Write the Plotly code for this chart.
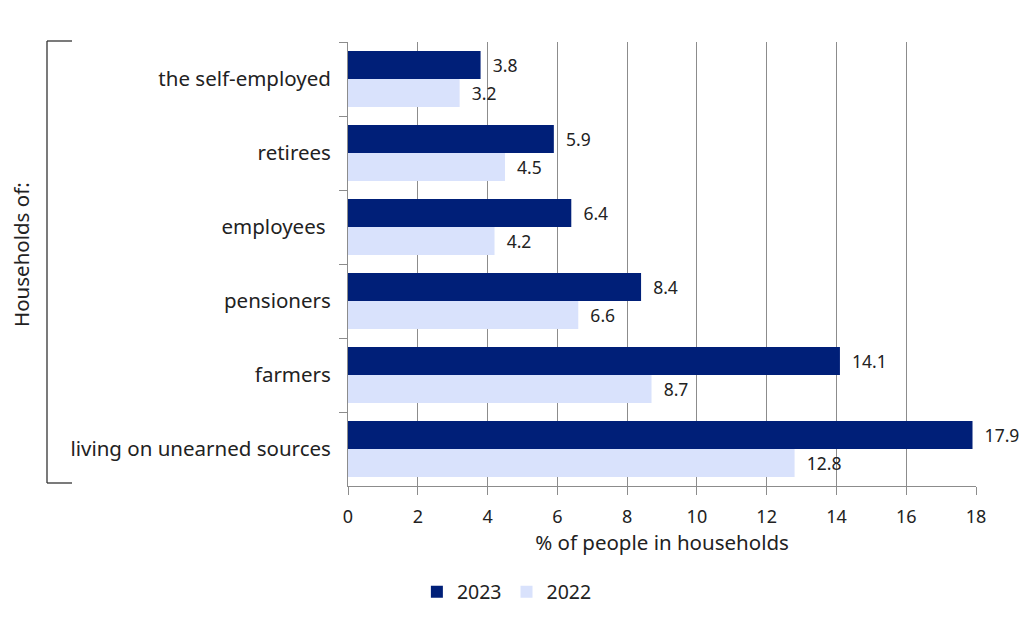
import plotly.graph_objects as go

categories = ["the self-employed", "retirees", "employees ", "pensioners", "farmers",
              "living on unearned sources"]
values_2023 = [3.8, 5.9, 6.4, 8.4, 14.1, 17.9]
values_2022 = [3.2, 4.5, 4.2, 6.6, 8.7, 12.8]
x_ticks = [0, 2, 4, 6, 8, 10, 12, 14, 16, 18]

DARK = "#001F78"
LIGHT = "#D9E2FC"
TEXT = "#222222"
GRID = "#8C8C8C"
FONT = "Noto Sans"
PAD = "\u00a0\u00a0"

fig = go.Figure()
for name, vals, color in [("2023", values_2023, DARK), ("2022", values_2022, LIGHT)]:
    fig.add_trace(go.Bar(
        y=categories, x=vals, name=name, orientation="h",
        marker=dict(color=color, line=dict(width=0)),
        text=[f"{PAD}{v:.1f}" for v in vals], textposition="outside",
        textfont=dict(size=17.5, color=TEXT, family=FONT), cliponaxis=False,
    ))

L, R, T, B = 348, 48, 42, 140
W, H = 1024, 626
pw = W - L - R
ph = H - T - B


def px_x(p):
    return (p - L) / pw


def px_y(p):
    return 1 - (p - T) / ph


# Bracket grouping the household categories
bx0, bx1 = px_x(47), px_x(72)
by0, by1 = px_y(41), px_y(483)
bracket = dict(color="#333333", width=1.3)
shapes = [
    dict(type="line", xref="paper", yref="paper", x0=bx0, x1=bx0, y0=by0, y1=by1, line=bracket),
    dict(type="line", xref="paper", yref="paper", x0=bx0, x1=bx1, y0=by0, y1=by0, line=bracket),
    dict(type="line", xref="paper", yref="paper", x0=bx0, x1=bx1, y0=by1, y1=by1, line=bracket),
]

fig.update_layout(
    width=W, height=H,
    margin=dict(l=L, r=R, t=T, b=B),
    paper_bgcolor="white", plot_bgcolor="white",
    barmode="group", bargap=0.24, bargroupgap=0,
    font=dict(family=FONT, size=18, color=TEXT),
    shapes=shapes,
    showlegend=True,
    legend=dict(orientation="h", x=0.495, xref="container", xanchor="center",
                y=1 - 592 / H, yref="container", yanchor="middle",
                font=dict(size=19.5, family=FONT, color=TEXT),
                itemwidth=30, traceorder="normal"),
    annotations=[dict(text="Households of:", xref="paper", yref="paper",
                      x=px_x(21), y=px_y(254), xanchor="center", yanchor="middle",
                      textangle=-90, showarrow=False,
                      font=dict(size=20.5, family=FONT, color=TEXT))],
)

fig.update_xaxes(
    range=[0, 18], tickvals=x_ticks, showgrid=True, gridcolor=GRID, gridwidth=1,
    showline=True, linecolor=GRID, linewidth=1,
    ticks="outside", ticklen=8, tickcolor=GRID,
    tickfont=dict(size=18, family=FONT, color=TEXT),
    ticklabelstandoff=6,
    title=dict(text="% of people in households", standoff=8,
               font=dict(size=20.5, family=FONT, color=TEXT)),
    zeroline=False,
)
fig.update_yaxes(
    autorange="reversed", showline=True, linecolor=GRID, linewidth=1,
    ticks="outside", tickson="boundaries", ticklen=8, tickcolor=GRID,
    tickfont=dict(size=20.5, family=FONT, color=TEXT),
    ticklabelstandoff=12,
    showgrid=False,
)

fig.write_html("out.html")
